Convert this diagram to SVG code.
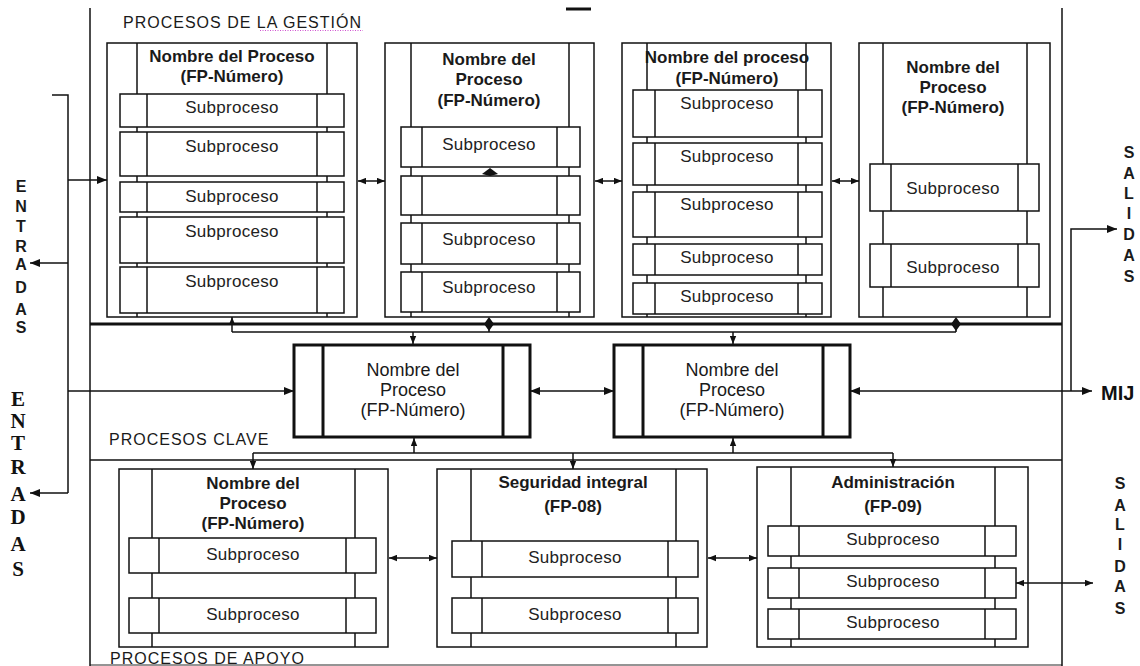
<svg xmlns="http://www.w3.org/2000/svg" width="1140" height="666" viewBox="0 0 1140 666">
  <defs>
    <marker id="ah" viewBox="0 0 10 8" refX="10" refY="4" markerWidth="10" markerHeight="8" markerUnits="userSpaceOnUse" orient="auto-start-reverse">
      <path d="M0,0 L10,4 L0,8 z" fill="#111"/>
    </marker>
    <marker id="ahs" viewBox="0 0 10 8" refX="10" refY="4" markerWidth="8" markerHeight="7" markerUnits="userSpaceOnUse" orient="auto-start-reverse">
      <path d="M0,0 L10,4 L0,8 z" fill="#111"/>
    </marker>
  </defs>
  <style>
    .ln{stroke:#111;stroke-width:1.5;fill:none}
    .thk{stroke:#111;stroke-width:3;fill:none}
    .box{fill:#fff;stroke:#111;stroke-width:1.5}
    .kbox{fill:#fff;stroke:#111;stroke-width:3}
    .ar{marker-end:url(#ah)}
    .dar{marker-start:url(#ah);marker-end:url(#ah)}
    .sar{marker-end:url(#ahs)}
    .sdar{marker-start:url(#ahs);marker-end:url(#ahs)}
    .t{font-family:"Liberation Sans",Arial,sans-serif;fill:#1a1a1a;text-anchor:middle}
    .ttl{font-size:17px;font-weight:bold}
    .sub{font-size:17px;letter-spacing:0.3px;fill:#222}
    .key{font-size:18px}
    .sec{font-size:16px;letter-spacing:1px;text-anchor:start}
    .vl{font-size:16px;font-weight:bold}
    .vs{font-family:"Liberation Serif","Times New Roman",serif;font-size:21px;font-weight:bold;fill:#111;text-anchor:middle}
  </style>
  <rect width="1140" height="666" fill="#fff"/>

  <!-- frame and section labels -->
  <g id="frame">
    <line class="ln" x1="90" y1="8" x2="90" y2="666"/>
    <line class="ln" x1="1062" y1="8" x2="1062" y2="666"/>
    <line class="ln" x1="90" y1="665" x2="1062" y2="665" stroke-opacity="0.6"/>
    <line class="thk" x1="566" y1="9" x2="591" y2="9"/>
    <line class="thk" x1="90" y1="324" x2="1062" y2="324"/>
    <line class="ln" x1="90" y1="460" x2="1062" y2="460"/>
    <text class="t sec" x="123" y="28">PROCESOS DE LA GESTIÓN</text>
    <line x1="260" y1="30.5" x2="363" y2="30.5" stroke="#d050d0" stroke-width="1" stroke-dasharray="1 1.5"/>
    <text class="t sec" x="109" y="445">PROCESOS CLAVE</text>
    <text class="t sec" x="110" y="664">PROCESOS DE APOYO</text>
  </g>

  <!-- side labels -->
  <g id="entradas-1" class="t vl">
    <text x="21" y="192">E</text><text x="21" y="212">N</text><text x="21" y="232">T</text><text x="21" y="252">R</text>
    <text x="21" y="270">A</text><text x="21" y="293">D</text><text x="21" y="315">A</text><text x="21" y="333">S</text>
  </g>
  <g id="entradas-2" class="vs">
    <text x="18" y="406">E</text><text x="18" y="428">N</text><text x="18" y="450">T</text><text x="18" y="474">R</text>
    <text x="18" y="501">A</text><text x="18" y="524">D</text><text x="18" y="551">A</text><text x="18" y="576">S</text>
  </g>
  <g id="salidas-1" class="t vl">
    <text x="1129" y="158">S</text><text x="1129" y="179">A</text><text x="1129" y="199">L</text><text x="1129" y="219">I</text>
    <text x="1129" y="240">D</text><text x="1129" y="261">A</text><text x="1129" y="282">S</text>
  </g>
  <g id="salidas-2" class="t vl">
    <text x="1120" y="489">S</text><text x="1120" y="511">A</text><text x="1120" y="530">L</text><text x="1120" y="550">I</text>
    <text x="1120" y="572">D</text><text x="1120" y="592">A</text><text x="1120" y="614">S</text>
  </g>
  <g id="mij">
    <text class="t" x="1101" y="400" style="text-anchor:start;font-size:20px;font-weight:bold;fill:#111">MIJ</text>
  </g>

  <!-- management processes -->
  <g id="gestion-1">
    <rect class="box" x="107" y="43" width="250" height="274"/>
    <line class="ln" x1="137" y1="43" x2="137" y2="317"/>
    <line class="ln" x1="327" y1="43" x2="327" y2="317"/>
    <text class="t ttl" x="232" y="62">Nombre del Proceso</text>
    <text class="t ttl" x="232" y="82">(FP-Número)</text>
    <rect class="box" x="120" y="94" width="224" height="33"/><line class="ln" x1="147" y1="94" x2="147" y2="127"/><line class="ln" x1="317" y1="94" x2="317" y2="127"/>
    <text class="t sub" x="232" y="113">Subproceso</text>
    <rect class="box" x="120" y="132" width="224" height="44"/><line class="ln" x1="147" y1="132" x2="147" y2="176"/><line class="ln" x1="317" y1="132" x2="317" y2="176"/>
    <text class="t sub" x="232" y="152">Subproceso</text>
    <rect class="box" x="120" y="182" width="224" height="30"/><line class="ln" x1="147" y1="182" x2="147" y2="212"/><line class="ln" x1="317" y1="182" x2="317" y2="212"/>
    <text class="t sub" x="232" y="202">Subproceso</text>
    <rect class="box" x="120" y="217" width="224" height="46"/><line class="ln" x1="147" y1="217" x2="147" y2="263"/><line class="ln" x1="317" y1="217" x2="317" y2="263"/>
    <text class="t sub" x="232" y="237">Subproceso</text>
    <rect class="box" x="120" y="267" width="224" height="46"/><line class="ln" x1="147" y1="267" x2="147" y2="313"/><line class="ln" x1="317" y1="267" x2="317" y2="313"/>
    <text class="t sub" x="232" y="287">Subproceso</text>
  </g>

  <g id="gestion-2">
    <rect class="box" x="385" y="43" width="209" height="274"/>
    <line class="ln" x1="411" y1="43" x2="411" y2="317"/>
    <line class="ln" x1="569" y1="43" x2="569" y2="317"/>
    <text class="t ttl" x="489" y="65">Nombre del</text>
    <text class="t ttl" x="489" y="85">Proceso</text>
    <text class="t ttl" x="489" y="106">(FP-Número)</text>
    <rect class="box" x="401" y="127" width="179" height="40"/><line class="ln" x1="422" y1="127" x2="422" y2="167"/><line class="ln" x1="557" y1="127" x2="557" y2="167"/>
    <text class="t sub" x="489" y="150">Subproceso</text>
    <rect class="box" x="401" y="176" width="179" height="39"/><line class="ln" x1="422" y1="176" x2="422" y2="215"/><line class="ln" x1="557" y1="176" x2="557" y2="215"/>
    <rect class="box" x="401" y="223" width="179" height="41"/><line class="ln" x1="422" y1="223" x2="422" y2="264"/><line class="ln" x1="557" y1="223" x2="557" y2="264"/>
    <text class="t sub" x="489" y="245">Subproceso</text>
    <rect class="box" x="401" y="272" width="179" height="40"/><line class="ln" x1="422" y1="272" x2="422" y2="312"/><line class="ln" x1="557" y1="272" x2="557" y2="312"/>
    <text class="t sub" x="489" y="293">Subproceso</text>
  </g>

  <g id="gestion-3">
    <rect class="box" x="622" y="43" width="209" height="274"/>
    <line class="ln" x1="647" y1="43" x2="647" y2="317"/>
    <line class="ln" x1="806" y1="43" x2="806" y2="317"/>
    <rect class="box" x="633" y="90" width="189" height="47"/><line class="ln" x1="655" y1="90" x2="655" y2="137"/><line class="ln" x1="798" y1="90" x2="798" y2="137"/>
    <text class="t sub" x="727" y="109">Subproceso</text>
    <rect class="box" x="633" y="143" width="189" height="42"/><line class="ln" x1="655" y1="143" x2="655" y2="185"/><line class="ln" x1="798" y1="143" x2="798" y2="185"/>
    <text class="t sub" x="727" y="162">Subproceso</text>
    <rect class="box" x="633" y="192" width="189" height="45"/><line class="ln" x1="655" y1="192" x2="655" y2="237"/><line class="ln" x1="798" y1="192" x2="798" y2="237"/>
    <text class="t sub" x="727" y="210">Subproceso</text>
    <rect class="box" x="633" y="244" width="189" height="31"/><line class="ln" x1="655" y1="244" x2="655" y2="275"/><line class="ln" x1="798" y1="244" x2="798" y2="275"/>
    <text class="t sub" x="727" y="263">Subproceso</text>
    <rect class="box" x="633" y="283" width="189" height="31"/><line class="ln" x1="655" y1="283" x2="655" y2="314"/><line class="ln" x1="798" y1="283" x2="798" y2="314"/>
    <text class="t sub" x="727" y="302">Subproceso</text>
    <text class="t ttl" x="727" y="63">Nombre del proceso</text>
    <text class="t ttl" x="727" y="84">(FP-Número)</text>
  </g>

  <g id="gestion-4">
    <rect class="box" x="859" y="43" width="191" height="274"/>
    <line class="ln" x1="883" y1="43" x2="883" y2="317"/>
    <line class="ln" x1="1027" y1="43" x2="1027" y2="317"/>
    <text class="t ttl" x="953" y="73">Nombre del</text>
    <text class="t ttl" x="953" y="93">Proceso</text>
    <text class="t ttl" x="953" y="113">(FP-Número)</text>
    <rect class="box" x="870" y="164" width="169" height="47"/><line class="ln" x1="891" y1="164" x2="891" y2="211"/><line class="ln" x1="1018" y1="164" x2="1018" y2="211"/>
    <text class="t sub" x="953" y="194">Subproceso</text>
    <rect class="box" x="870" y="244" width="169" height="43"/><line class="ln" x1="891" y1="244" x2="891" y2="287"/><line class="ln" x1="1018" y1="244" x2="1018" y2="287"/>
    <text class="t sub" x="953" y="273">Subproceso</text>
  </g>

  <!-- key processes -->
  <g id="clave-1">
    <rect class="kbox" x="294" y="345" width="236" height="92"/>
    <line class="thk" x1="323" y1="345" x2="323" y2="437"/>
    <line class="thk" x1="503" y1="345" x2="503" y2="437"/>
    <text class="t key" x="413" y="376">Nombre del</text>
    <text class="t key" x="413" y="396">Proceso</text>
    <text class="t key" x="413" y="416">(FP-Número)</text>
  </g>
  <g id="clave-2">
    <rect class="kbox" x="614" y="345" width="236" height="92"/>
    <line class="thk" x1="643" y1="345" x2="643" y2="437"/>
    <line class="thk" x1="823" y1="345" x2="823" y2="437"/>
    <text class="t key" x="732" y="376">Nombre del</text>
    <text class="t key" x="732" y="396">Proceso</text>
    <text class="t key" x="732" y="416">(FP-Número)</text>
  </g>

  <!-- support processes -->
  <g id="apoyo-1">
    <rect class="box" x="119" y="469" width="269" height="178"/>
    <line class="ln" x1="152" y1="469" x2="152" y2="647"/>
    <line class="ln" x1="355" y1="469" x2="355" y2="647"/>
    <text class="t ttl" x="253" y="489">Nombre del</text>
    <text class="t ttl" x="253" y="509">Proceso</text>
    <text class="t ttl" x="253" y="529">(FP-Número)</text>
    <rect class="box" x="129" y="538" width="247" height="35"/><line class="ln" x1="159" y1="538" x2="159" y2="573"/><line class="ln" x1="346" y1="538" x2="346" y2="573"/>
    <text class="t sub" x="253" y="560">Subproceso</text>
    <rect class="box" x="129" y="598" width="247" height="35"/><line class="ln" x1="159" y1="598" x2="159" y2="633"/><line class="ln" x1="346" y1="598" x2="346" y2="633"/>
    <text class="t sub" x="253" y="620">Subproceso</text>
  </g>
  <g id="apoyo-2">
    <rect class="box" x="437" y="469" width="270" height="178"/>
    <line class="ln" x1="471" y1="469" x2="471" y2="647"/>
    <line class="ln" x1="676" y1="469" x2="676" y2="647"/>
    <text class="t ttl" x="573" y="488">Seguridad integral</text>
    <text class="t ttl" x="573" y="512">(FP-08)</text>
    <rect class="box" x="452" y="541" width="246" height="36"/><line class="ln" x1="482" y1="541" x2="482" y2="577"/><line class="ln" x1="668" y1="541" x2="668" y2="577"/>
    <text class="t sub" x="575" y="563">Subproceso</text>
    <rect class="box" x="452" y="598" width="246" height="35"/><line class="ln" x1="482" y1="598" x2="482" y2="633"/><line class="ln" x1="668" y1="598" x2="668" y2="633"/>
    <text class="t sub" x="575" y="620">Subproceso</text>
  </g>
  <g id="apoyo-3">
    <rect class="box" x="757" y="467" width="271" height="180"/>
    <line class="ln" x1="791" y1="467" x2="791" y2="647"/>
    <line class="ln" x1="995" y1="467" x2="995" y2="647"/>
    <text class="t ttl" x="893" y="488">Administración</text>
    <text class="t ttl" x="893" y="512">(FP-09)</text>
    <rect class="box" x="768" y="526" width="248" height="30"/><line class="ln" x1="799" y1="526" x2="799" y2="556"/><line class="ln" x1="985" y1="526" x2="985" y2="556"/>
    <text class="t sub" x="893" y="545">Subproceso</text>
    <rect class="box" x="768" y="568" width="248" height="30"/><line class="ln" x1="799" y1="568" x2="799" y2="598"/><line class="ln" x1="985" y1="568" x2="985" y2="598"/>
    <text class="t sub" x="893" y="587">Subproceso</text>
    <rect class="box" x="768" y="609" width="248" height="30"/><line class="ln" x1="799" y1="609" x2="799" y2="639"/><line class="ln" x1="985" y1="609" x2="985" y2="639"/>
    <text class="t sub" x="893" y="628">Subproceso</text>
  </g>

  <!-- connectors -->
  <g id="connectors">
    <!-- inputs on the left -->
    <polyline class="ln" points="52,95 68,95 68,493"/>
    <line class="ln ar" x1="68" y1="180" x2="107" y2="180"/>
    <line class="ln ar" x1="68" y1="263" x2="30" y2="263"/>
    <line class="ln ar" x1="68" y1="391" x2="294" y2="391"/>
    <line class="ln ar" x1="68" y1="493" x2="30" y2="493"/>
    <!-- links between management processes -->
    <line class="ln sdar" x1="358" y1="181" x2="385" y2="181"/>
    <line class="ln sdar" x1="595" y1="181" x2="622" y2="181"/>
    <line class="ln sdar" x1="832" y1="181" x2="859" y2="181"/>
    <polygon points="482,174 490,168 498,174 490,176" fill="#111"/>
    <!-- upper bus -->
    <line class="ln" x1="232" y1="332" x2="956" y2="332"/>
    <line class="ln sar" x1="232" y1="332" x2="232" y2="317"/>
    <line class="ln" x1="489" y1="332" x2="489" y2="324"/>
    <polygon points="489,317 494,324 489,331 484,324" fill="#111"/>
    <line class="ln" x1="956" y1="332" x2="956" y2="324"/>
    <polygon points="956,317 961,324 956,331 951,324" fill="#111"/>
    <line class="ln sar" x1="413" y1="332" x2="413" y2="344"/>
    <line class="ln sar" x1="733" y1="332" x2="733" y2="344"/>
    <!-- key process links -->
    <line class="ln dar" x1="530" y1="391" x2="614" y2="391"/>
    <line class="ln dar" x1="850" y1="391" x2="1092" y2="391"/>
    <polyline class="ln ar" points="1071,391 1071,229 1117,229"/>
    <!-- lower bus -->
    <line class="ln" x1="253" y1="453" x2="893" y2="453"/>
    <line class="ln sar" x1="414" y1="453" x2="414" y2="438"/>
    <line class="ln sar" x1="733" y1="453" x2="733" y2="438"/>
    <line class="ln sar" x1="253" y1="453" x2="253" y2="469"/>
    <line class="ln sar" x1="573" y1="453" x2="573" y2="469"/>
    <line class="ln sar" x1="893" y1="453" x2="893" y2="467"/>
    <!-- links between support processes -->
    <line class="ln sdar" x1="389" y1="558" x2="437" y2="558"/>
    <line class="ln sdar" x1="708" y1="558" x2="757" y2="558"/>
    <line class="ln sdar" x1="1016" y1="583" x2="1093" y2="583"/>
  </g>
</svg>
